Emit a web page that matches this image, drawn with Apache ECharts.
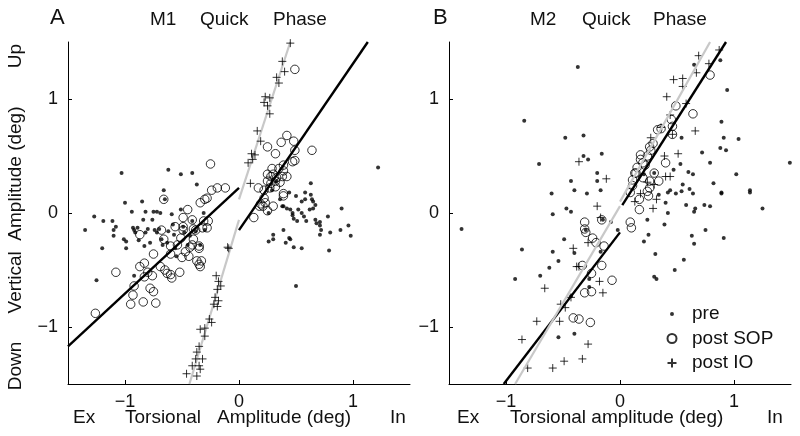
<!DOCTYPE html>
<html>
<head>
<meta charset="utf-8">
<script src="https://cdn.jsdelivr.net/npm/echarts@6/dist/echarts.min.js"></script>
<style>html,body{margin:0;padding:0;background:#fff}#c{width:800px;height:436px}</style>
</head>
<body>
<div id="c"></div>
<script>
// ---------- Panel A (M1) data: [torsional, vertical] in deg ----------
const preA = [
[-1.35,-0.15],[-1.25,-0.59],[-1.20,-0.31],[-1.27,-0.03],[-1.19,-0.07],[-1.11,-0.07],[-1.10,-0.15],[-1.10,-0.20],
[-1.03,0.35],[-1.01,-0.23],[-0.99,-0.31],[-1.00,0.09],[-0.99,-0.25],[-0.94,0.01],[-0.93,-0.13],[-0.92,-0.15],
[-0.92,-0.55],[-0.91,-0.17],[-0.89,-0.13],[-0.88,-0.24],[-0.85,0.10],[-0.84,-0.06],[-0.83,-0.29],[-0.82,0.01],
[-0.82,-0.17],[-0.80,-0.14],[-0.78,-0.26],[-0.76,-0.06],[-0.75,0.01],[-0.72,0.01],[-0.74,-0.15],[-0.72,-0.17],
[-0.70,-0.14],[-0.68,-0.23],[-0.66,0.20],[-0.67,-0.28],[-0.65,0.12],[-0.62,0.38],[-0.62,-0.16],[-0.59,-0.01],
[-0.58,-0.10],[-0.56,-0.31],[-0.55,-0.38],[-0.51,0.03],[-0.51,0.34],[-0.49,-0.12],[-0.48,-0.17],[-0.45,-0.28],
[-0.43,-0.20],[-0.41,0.35],[-0.41,-0.07],[-0.38,-0.16],[-0.37,0.25],[-0.34,-0.28],[-0.31,0.00],[-0.30,-0.15],
[-0.57,-0.19],[-0.69,0.00],[-1.08,-0.12],[-0.63,-0.26],
[1.22,0.40],[0.44,0.18],[0.50,0.15],[0.58,0.18],[0.63,0.26],[0.63,0.16],[0.64,0.12],[0.65,0.10],[0.67,0.07],
[0.58,0.12],[0.55,0.10],[0.39,0.06],[0.42,0.04],[0.45,0.03],[0.47,0.00],[0.47,-0.02],[0.48,-0.05],[0.51,-0.07],
[0.55,0.00],[0.57,-0.03],[0.59,-0.07],[0.62,0.03],[0.65,0.04],[0.67,-0.06],[0.68,-0.09],[0.71,-0.11],[0.72,-0.15],
[0.71,-0.19],[0.78,-0.03],[0.80,-0.17],[0.79,-0.33],[0.89,-0.15],[0.90,0.04],[0.96,-0.11],[0.98,-0.20],
[0.26,-0.25],[0.30,-0.23],[0.30,-0.19],[0.39,-0.15],[0.41,-0.26],[0.44,-0.22],[0.45,-0.23],[0.48,-0.30],
[0.55,-0.31],[0.50,-0.64],[0.36,0.12],[0.29,0.20],[0.33,0.28],[0.38,0.06],[0.52,0.03],[0.71,-0.08],[0.26,0.00]
];
const sopA = [
[-1.26,-0.88],[-1.08,-0.52],[-0.95,-0.80],[-0.93,-0.72],[-0.92,-0.64],[-0.87,-0.47],[-0.83,-0.44],[-0.84,-0.78],
[-0.83,-0.56],[-0.80,-0.52],[-0.76,-0.55],[-0.78,-0.66],[-0.75,-0.69],[-0.73,-0.79],[-0.75,-0.36],[-0.87,-0.19],
[-0.68,-0.15],[-0.66,0.12],[-0.69,-0.47],[-0.65,-0.50],[-0.63,-0.53],[-0.60,-0.54],[-0.59,-0.57],[-0.66,-0.23],
[-0.60,-0.29],[-0.60,-0.36],[-0.56,-0.12],[-0.54,-0.28],[-0.52,-0.52],[-0.51,-0.22],[-0.49,-0.04],[-0.49,-0.12],
[-0.49,-0.15],[-0.50,-0.39],[-0.47,-0.34],[-0.45,0.03],[-0.44,-0.38],[-0.43,-0.30],[-0.41,-0.06],[-0.40,-0.14],
[-0.41,-0.28],[-0.38,-0.15],[-0.37,-0.42],[-0.35,-0.29],[-0.35,-0.31],[-0.34,0.09],[-0.34,-0.47],[-0.35,-0.45],
[-0.33,-0.42],[-0.32,-0.13],[-0.31,-0.07],[-0.30,0.12],[-0.28,0.13],[-0.28,-0.13],[-0.27,-0.07],[-0.25,0.43],
[-0.24,0.20],[-0.19,0.22],[-0.12,0.22],[-0.40,-0.23],
[0.49,1.26],[0.42,0.68],[0.37,0.62],[0.48,0.63],[0.25,0.58],[0.32,0.52],[0.64,0.55],[0.49,0.55],[0.49,0.46],
[0.47,0.45],[0.39,0.42],[0.29,0.39],[0.35,0.39],[0.39,0.37],[0.25,0.34],[0.28,0.32],[0.30,0.34],[0.33,0.31],
[0.38,0.32],[0.42,0.32],[0.25,0.28],[0.28,0.26],[0.32,0.28],[0.36,0.27],[0.17,0.22],[0.22,0.20],[0.27,0.22],
[0.32,0.23],[0.39,0.17],[0.39,0.15],[0.22,0.13],[0.23,0.09],[0.18,0.06],[0.21,0.06],[0.25,0.02],[0.30,0.06],
[0.13,-0.04],[0.19,0.08]
];
const ioA = [
[0.45,1.49],[0.38,1.33],[0.40,1.24],[0.33,1.19],[0.35,1.14],[0.23,1.02],[0.27,1.01],[0.22,0.97],[0.25,0.94],
[0.27,0.87],[0.16,0.72],[0.19,0.63],[0.11,0.52],[0.14,0.51],[0.12,0.47],[0.08,0.44],[0.10,0.26],
[-0.10,-0.30],[-0.09,-0.31],[-0.20,-0.55],[-0.18,-0.60],[-0.16,-0.64],[-0.19,-0.67],[-0.21,-0.74],[-0.18,-0.77],
[-0.19,-0.82],[-0.24,-0.96],[-0.30,-1.01],[-0.34,-1.02],[-0.30,-1.08],[-0.35,-1.17],[-0.37,-1.22],[-0.32,-1.28],
[-0.35,-1.34],[-0.34,-1.37],[-0.46,-1.41],[-0.41,-1.34],[-0.37,-1.43],[-0.38,-1.28],[-0.22,-0.80],[-0.26,-0.93]
];
// fit lines, panel A
const fitBlackA1 = [[-1.5,-1.17],[0.0,0.22]];
const fitBlackA2 = [[0.0,-0.15],[1.13,1.5]];
const fitGrayA1 = [[-0.435,-1.5],[0.0,-0.06]];
const fitGrayA2 = [[0.0,0.12],[0.45,1.5]];

// ---------- Panel B (M2) data ----------
const preB = [
[-1.39,-0.14],[-0.84,0.81],[-0.37,1.28],[-0.71,0.43],[-0.86,-0.32],[-0.92,-0.58],[-0.70,-0.55],[-0.62,-0.48],
[-0.60,0.17],[-0.59,-0.01],[-0.59,-0.34],[-0.48,0.66],[-0.47,0.04],[-0.49,-0.23],[-0.43,0.01],[-0.43,0.28],
[-0.40,0.20],[-0.40,-0.35],[-0.40,-1.06],[-0.54,-1.09],[-0.32,0.68],[-0.32,0.50],[-0.28,0.47],[-0.29,0.17],
[-0.30,-0.15],[-0.27,-0.58],[-0.27,-0.65],[-0.20,0.35],[-0.20,0.28],[-0.16,0.52],[-0.17,0.20],[-0.15,-0.06],
[-0.17,-0.34],[-0.43,-0.73],[-0.54,-0.42],[0.25,-0.19],[0.21,-0.25],[0.31,-0.36],[0.30,-0.56],[0.32,-0.58],
[0.39,-0.10],[0.40,0.09],[0.42,0.00],[0.44,0.20],[0.47,0.38],[0.48,-0.50],[0.49,0.17],[0.53,0.43],[0.54,0.66],
[0.55,0.25],[0.54,0.19],[0.56,-0.41],[0.58,0.07],[0.60,0.36],[0.63,-0.20],[0.64,0.34],[0.64,0.17],[0.65,-0.27],
[0.65,0.01],[0.65,1.30],[0.66,0.04],[0.72,0.53],[0.74,0.07],[0.75,-0.15],[0.79,0.44],[0.79,0.06],[0.82,0.26],
[0.88,0.57],[0.89,0.80],[0.89,0.18],[0.89,0.17],[0.91,-0.22],[0.91,0.66],[0.93,0.55],[0.88,1.34],[0.94,1.08],
[1.02,0.34],[1.04,0.65],[1.14,0.20],[1.14,0.18],[1.25,0.04],[1.49,0.44],[0.61,0.21],[0.34,0.16],[0.21,0.34],
[0.30,0.35],[0.42,0.18],[0.24,-0.06],[-0.08,-0.08],[-0.02,-0.15]
];
const sopB = [
[-0.31,-0.08],[-0.31,-0.14],[-0.30,-0.17],[-0.24,-0.22],[-0.21,-0.26],[-0.16,-0.06],[-0.14,-0.29],[-0.33,-0.46],
[-0.25,-0.53],[-0.16,-0.46],[-0.07,-0.59],[-0.31,-0.70],[-0.25,-0.69],[-0.41,-0.92],[-0.36,-0.93],[-0.26,-0.96],
[0.09,-0.08],[0.10,-0.13],[0.17,0.03],[0.09,0.18],[0.11,0.24],[0.11,0.29],[0.14,0.35],[0.15,0.40],[0.18,0.51],
[0.18,0.47],[0.20,0.44],[0.22,0.42],[0.24,0.50],[0.26,0.58],[0.27,0.55],[0.29,0.61],[0.24,0.19],[0.25,0.15],
[0.26,0.22],[0.34,0.28],[0.40,0.44],[0.33,0.73],[0.45,0.82],[0.46,0.69],[0.49,0.94],[0.64,0.87],[0.79,1.21],
[0.17,0.12],[0.13,0.35],[0.30,0.35],[0.20,0.31],[0.26,0.28],[0.36,0.74],[0.46,0.76]
];
const ioB = [
[-0.81,-1.36],[-0.59,-1.36],[-0.49,-1.30],[-0.33,-1.28],[-0.86,-1.11],[-0.28,-1.15],[-0.73,-0.95],[-0.53,-0.95],
[-0.66,-0.66],[-0.52,-0.80],[-0.48,-0.83],[-0.43,-0.74],[-0.41,-0.31],[-0.38,-0.47],[-0.36,-0.47],[-0.28,-0.26],
[-0.18,-0.60],[-0.15,-0.70],[-0.36,0.45],[-0.20,0.06],[-0.17,-0.04],[-0.12,0.30],[0.69,1.38],[0.78,1.31],
[0.87,1.43],[0.67,1.23],[0.47,1.17],[0.55,1.18],[0.55,1.11],[0.41,1.02],[0.58,0.96],[0.44,0.86],[0.66,0.72],
[0.36,0.75],[0.27,0.66],[0.46,0.69],[0.51,0.52],[0.39,0.50],[0.40,0.32],[0.44,0.32],[0.30,0.25],[0.32,0.12],
[0.29,0.04],[0.13,0.10],[0.18,0.17],[0.24,0.27]
];
const fitBlackB1 = [[-1.02,-1.5],[0.0,-0.17]];
const fitBlackB2 = [[0.02,0.07],[0.93,1.5]];
const fitGrayB1 = [[-0.92,-1.5],[0.0,0.06]];
const fitGrayB2 = [[0.0,0.10],[0.79,1.5]];

const tickValues = [-1, 0, 1];
const seriesNames = ['pre', 'post SOP', 'post IO'];

// ---------- styling ----------
const FONT = '"Liberation Sans", Arial, sans-serif';
const TXT = '#111';
const PLUS = 'path://M5,0L5,10M0,5L10,5';
const DOT_ICON = 'path://M0,0M10,10M2.8,5a2.2,2.2 0 1 0 4.4,0a2.2,2.2 0 1 0 -4.4,0z';
const fmt = v => (v < 0 ? '\u2212' + Math.abs(v) : String(v));

function xAxis(gi){
  return {
    gridIndex: gi, type: 'value', min: -1.5, max: 1.5,
    axisLine: {show: true, onZero: false, lineStyle: {color: '#000', width: 1}},
    axisTick: {show: true, inside: true, length: 4, customValues: tickValues, lineStyle: {color: '#000'}},
    axisLabel: {customValues: tickValues, formatter: fmt, fontSize: 18, color: TXT, fontFamily: FONT, margin: 9},
    splitLine: {show: false}
  };
}
function yAxis(gi){
  return {
    gridIndex: gi, type: 'value', min: -1.5, max: 1.5,
    axisLine: {show: true, onZero: false, lineStyle: {color: '#000', width: 1}},
    axisTick: {show: true, inside: true, length: 4, customValues: tickValues, lineStyle: {color: '#000'}},
    axisLabel: {customValues: tickValues, formatter: fmt, fontSize: 18, color: TXT, fontFamily: FONT, margin: 10},
    splitLine: {show: false}
  };
}
function scatterSet(idx, pre, sop, io){
  return [
    {name: seriesNames[0], type: 'scatter', xAxisIndex: idx, yAxisIndex: idx, data: pre,
     symbol: 'circle', symbolSize: 4, itemStyle: {color: '#000'}, z: 3},
    {name: seriesNames[1], type: 'scatter', xAxisIndex: idx, yAxisIndex: idx, data: sop,
     symbol: 'circle', symbolSize: 8.5, itemStyle: {color: 'none', borderColor: '#000', borderWidth: 1}, z: 3},
    {name: seriesNames[2], type: 'scatter', xAxisIndex: idx, yAxisIndex: idx, data: io,
     symbol: PLUS, symbolSize: 8, itemStyle: {color: 'none', borderColor: '#000', borderWidth: 1}, z: 3}
  ];
}
function fitLine(idx, data, color, width, z){
  return {type: 'line', xAxisIndex: idx, yAxisIndex: idx, data: data, showSymbol: false, symbol: 'none',
          lineStyle: {color: color, width: width}, silent: true, z: z, clip: true};
}
function txt(x, y, s, opts){
  return Object.assign({type: 'text', x: x, y: y,
    style: Object.assign({text: s, fill: TXT, font: '19px ' + FONT, textVerticalAlign: 'middle'}, opts || {})});
}
function vtxt(x, y, s){
  return {type: 'text', x: x, y: y, rotation: Math.PI / 2,
    style: {text: s, fill: TXT, font: '19px ' + FONT, textAlign: 'center', textVerticalAlign: 'middle'}};
}

const chart = echarts.init(document.getElementById('c'), null, {renderer: 'canvas'});
chart.setOption({
  animation: false,
  backgroundColor: '#fff',
  grid: [
    {left: 68, right: 390, top: 42, bottom: 52},
    {left: 449, right: 9, top: 42, bottom: 52}
  ],
  xAxis: [xAxis(0), xAxis(1)],
  yAxis: [yAxis(0), yAxis(1)],
  legend: {
    orient: 'vertical', left: 660, top: 299, itemWidth: 30, itemHeight: 9, itemGap: 4.5,
    textStyle: {fontSize: 19, color: TXT, fontFamily: FONT, lineHeight: 20},
    data: [
      {name: 'pre', icon: DOT_ICON},
      {name: 'post SOP'},
      {name: 'post IO'}
    ]
  },
  series: [].concat(
    [fitLine(0, fitGrayA1, '#c8c8c8', 2.2, 2), fitLine(0, fitGrayA2, '#c8c8c8', 2.2, 2),
     fitLine(0, fitBlackA1, '#000', 2.4, 4), fitLine(0, fitBlackA2, '#000', 2.4, 4)],
    scatterSet(0, preA, sopA, ioA),
    [fitLine(1, fitBlackB1, '#000', 2.4, 2), fitLine(1, fitBlackB2, '#000', 2.4, 2),
     fitLine(1, fitGrayB1, '#c8c8c8', 2.2, 4), fitLine(1, fitGrayB2, '#c8c8c8', 2.2, 4)],
    scatterSet(1, preB, sopB, ioB)
  ),
  graphic: [
    txt(50, 18, 'A', {font: '22px ' + FONT}),
    txt(150, 20, 'M1'), txt(200, 20, 'Quick'), txt(273, 20, 'Phase'),
    txt(433, 18, 'B', {font: '22px ' + FONT}),
    txt(530, 20, 'M2'), txt(582, 20, 'Quick'), txt(653, 20, 'Phase'),
    txt(73, 418, 'Ex'), txt(125, 418, 'Torsional'), txt(217, 418, 'Amplitude (deg)'), txt(390, 418, 'In'),
    txt(457, 418, 'Ex'), txt(510, 418, 'Torsional amplitude (deg)'), txt(767, 418, 'In'),
    vtxt(16, 56, 'Up'), vtxt(16, 210, 'Vertical  Amplitude (deg)'), vtxt(16, 366, 'Down')
  ]
});
</script>
</body>
</html>
